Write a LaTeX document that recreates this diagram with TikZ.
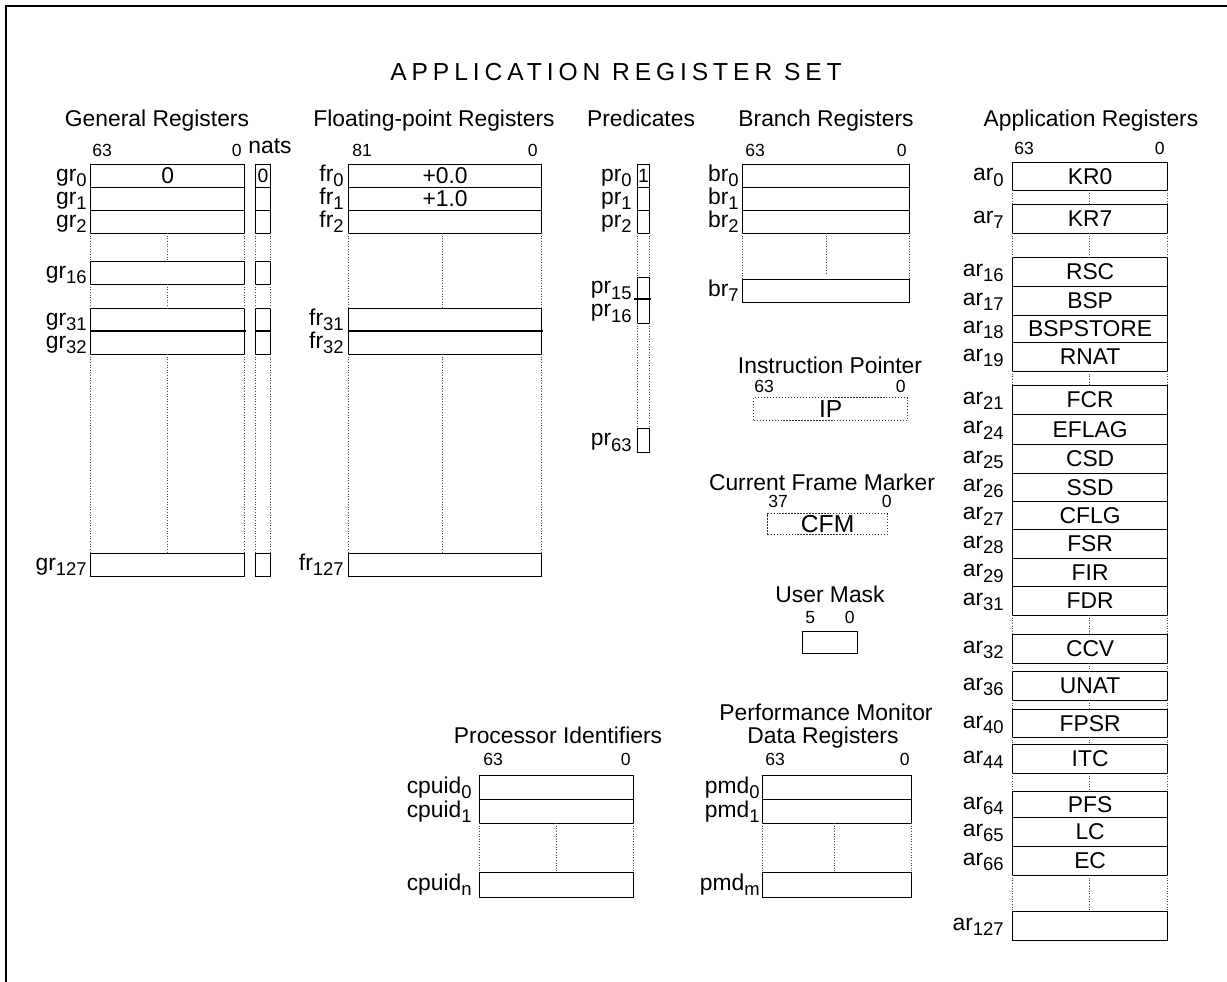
\documentclass[tikz,border=0pt]{standalone}
\usepackage{fontspec}
\setmainfont{Liberation Sans}
\newcommand{\rname}[2]{#1\raisebox{-3pt}{\fontsize{10.5}{11}\selectfont #2}}

\begin{document}
\begin{tikzpicture}[x=0.02cm, y=-0.02cm,
  every node/.style={font=\fontsize{13}{15}\selectfont},
  reg/.style={draw, line width=0.7pt, inner sep=0pt, anchor=north west},
  dotreg/.style={reg, densely dotted, draw=black!80},
  gap/.style={densely dotted, draw=black!70, line width=0.5pt},
  sep/.style={line width=1.4pt},
  lbl/.style={anchor=base east, inner sep=0pt},
  head/.style={anchor=base, inner sep=0pt},
  bitl/.style={font=\fontsize{10}{11}\selectfont, anchor=base west, inner sep=0pt},
  bitr/.style={font=\fontsize{10}{11}\selectfont, anchor=base east, inner sep=0pt}]

\useasboundingbox (0,0) rectangle (1227,982);

% Frame
\draw[line width=1.2pt] (6,982) -- (6,6) -- (1227,6);

% Title
\node[head, font=\fontsize{14}{16}\selectfont] (title) at (616,81)
  {\addfontfeature{LetterSpace=20}APPLICATION REGISTER SET};

% Headings
\node[head] (hgr) at (157,127) {General Registers};
\node[head] (hfr) at (434,127) {Floating-point Registers};
\node[head] (hpr) at (641,127) {Predicates};
\node[head] (hbr) at (826,127) {Branch Registers};
\node[head] (har) at (1091,127) {Application Registers};

% General registers and nats
\node[head] (hnat) at (270,154) {nats};
\node[bitl] (gr63) at (92,157) {63};
\node[bitr] (gr00) at (242,157) {0};
\foreach \n/\a/\b/\t in {0/164/187/0, 1/187/210/{}, 2/210/233/{}, 16/261/284/{},
    31/308/331/{}, 32/331/354/{}, 127/553/576/{}} {
  \node[reg, minimum width=154*0.02cm, minimum height={(\b-\a)*0.02cm}] (gr\n) at (90,\a) {\t};
  \node[reg, minimum width=15*0.02cm, minimum height={(\b-\a)*0.02cm},
    font=\fontsize{11}{12}\selectfont] (nat\n) at (255,\a) {\t};
  \node[lbl] (grl\n) at (87,{(\a+\b)/2+6}) {\rname{gr}{\n}};
}
\foreach \a/\b in {233/261, 284/308, 354/553}
  \draw[gap] (90,\a) -- (90,\b) (167,\a) -- (167,\b) (244,\a) -- (244,\b)
    (255,\a) -- (255,\b) (270,\a) -- (270,\b);
\draw[sep] (90,331) -- (246,331) (255,331) -- (270,331);

% Floating-point registers
\node[bitl] (fr81) at (352,157) {81};
\node[bitr] (fr00) at (538,157) {0};
\foreach \n/\a/\b/\t in {0/164/187/+0.0, 1/187/210/+1.0, 2/210/233/{},
    31/308/331/{}, 32/331/354/{}, 127/553/576/{}} {
  \node[reg, minimum width=193*0.02cm, minimum height={(\b-\a)*0.02cm}] (fr\n) at (348,\a) {\t};
  \node[lbl] (frl\n) at (344,{(\a+\b)/2+6}) {\rname{fr}{\n}};
}
\foreach \a/\b in {233/308, 354/553}
  \draw[gap] (348,\a) -- (348,\b) (442,\a) -- (442,\b) (541,\a) -- (541,\b);
\draw[sep] (348,331) -- (543,331);

% Predicates
\foreach \n/\a/\b/\t in {0/164/187/1, 1/187/210/{}, 2/210/233/{},
    15/277/299/{}, 16/299/323/{}, 63/428/452/{}} {
  \node[reg, minimum width=12*0.02cm, minimum height={(\b-\a)*0.02cm},
    font=\fontsize{11}{12}\selectfont] (pr\n) at (637,\a) {\t};
  \node[lbl] (prl\n) at (632,{(\a+\b)/2+6}) {\rname{pr}{\n}};
}
\foreach \a/\b in {233/277, 323/428}
  \draw[gap] (637,\a) -- (637,\b) (649,\a) -- (649,\b);
\draw[sep] (634,299) -- (651,299);

% Branch registers
\node[bitl] (br63) at (745,157) {63};
\node[bitr] (br00) at (907,157) {0};
\foreach \n/\a/\b in {0/164/187, 1/187/210, 2/210/233, 7/279/302} {
  \node[reg, minimum width=167*0.02cm, minimum height={(\b-\a)*0.02cm}] (br\n) at (742,\a) {};
  \node[lbl] (brl\n) at (739,{(\a+\b)/2+6}) {\rname{br}{\n}};
}
\draw[gap] (742,233) -- (742,279) (826,233) -- (826,274) (909,233) -- (909,279);

% Instruction pointer
\node[head] (hip) at (830,374) {Instruction Pointer};
\node[bitl] (ip63) at (754,393) {63};
\node[bitr] (ip00) at (906,393) {0};
\node[dotreg, minimum width=154*0.02cm, minimum height=23*0.02cm,
  font=\fontsize{14}{15}\selectfont] (ip) at (753,397) {IP};

% Current frame marker
\node[head] (hcfm) at (822,491) {Current Frame Marker};
\node[bitl] (cfm37) at (768,508) {37};
\node[bitr] (cfm00) at (892,508) {0};
\node[dotreg, minimum width=120*0.02cm, minimum height=21*0.02cm,
  font=\fontsize{14}{15}\selectfont] (cfm) at (767,513) {CFM};

% User mask
\node[head] (hum) at (830,603) {User Mask};
\node[bitl] (um5) at (805,623) {5};
\node[bitr] (um0) at (855,623) {0};
\node[reg, minimum width=55*0.02cm, minimum height=22*0.02cm] (um) at (802,631) {};

% Application registers
\node[bitl] (ar63) at (1014,155) {63};
\node[bitr] (ar00) at (1165,155) {0};
\foreach \n/\a/\b/\t in {0/162/190/KR0, 7/204/233/KR7, 16/257/286/RSC, 17/286/315/BSP,
    18/315/342/BSPSTORE, 19/342/371/RNAT, 21/385/414/FCR, 24/414/444/EFLAG,
    25/444/473/CSD, 26/473/501/SSD, 27/501/529/CFLG, 28/529/558/FSR, 29/558/586/FIR,
    31/586/615/FDR, 32/634/663/CCV, 36/671/700/UNAT, 40/709/737/FPSR, 44/744/773/ITC,
    64/791/817/PFS, 65/817/846/LC, 66/846/875/EC, 127/911/940/{}} {
  \node[reg, minimum width=155*0.02cm, minimum height={(\b-\a)*0.02cm}] (ar\n) at (1012,\a) {\t};
  \node[lbl] (arl\n) at (1004,{(\a+\b)/2+5}) {\rname{ar}{\n}};
}
\foreach \a/\b in {190/204, 233/257, 371/385, 615/634, 663/671, 700/709, 737/744,
    773/791, 875/911}
  \draw[gap] (1012,\a) -- (1012,\b) (1089,\a) -- (1089,\b) (1167,\a) -- (1167,\b);

% Processor identifiers
\node[head] (hcpu) at (558,743) {Processor Identifiers};
\node[bitl] (cpu63) at (483,765) {63};
\node[bitr] (cpu00) at (631,765) {0};
\foreach \n/\a/\b in {0/775/799, 1/799/823, n/872/897} {
  \node[reg, minimum width=154*0.02cm, minimum height={(\b-\a)*0.02cm}] (cpuid\n) at (479,\a) {};
  \node[lbl] (cpuidl\n) at (472,{(\a+\b)/2+6}) {\rname{cpuid}{\n}};
}
\draw[gap] (479,823) -- (479,872) (556,823) -- (556,872) (633,823) -- (633,872);

% Performance monitor data registers
\node[head] (hpmd) at (826,720) {Performance Monitor};
\node[head] (hpmdb) at (823,743) {Data Registers};
\node[bitl] (pmd63) at (765,765) {63};
\node[bitr] (pmd00) at (910,765) {0};
\foreach \n/\a/\b in {0/775/799, 1/799/823, m/872/897} {
  \node[reg, minimum width=149*0.02cm, minimum height={(\b-\a)*0.02cm}] (pmd\n) at (762,\a) {};
  \node[lbl] (pmdl\n) at (760,{(\a+\b)/2+6}) {\rname{pmd}{\n}};
}
\draw[gap] (762,823) -- (762,872) (834,823) -- (834,872) (911,823) -- (911,872);

\end{tikzpicture}
\end{document}
